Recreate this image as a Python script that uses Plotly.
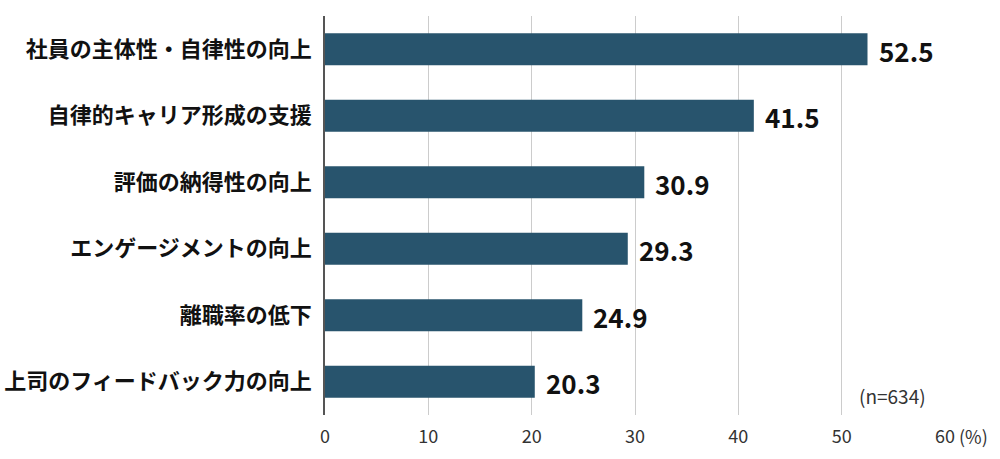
import plotly.graph_objects as go

categories = [
    "社員の主体性・自律性の向上",
    "自律的キャリア形成の支援",
    "評価の納得性の向上",
    "エンゲージメントの向上",
    "離職率の低下",
    "上司のフィードバック力の向上",
]
values = [52.5, 41.5, 30.9, 29.3, 24.9, 20.3]
x_ticks = [0, 10, 20, 30, 40, 50, 60]
note_n = "(n=634)"
unit = "(%)"

FONT = "Noto Sans CJK JP"
BAR = "#28546d"

fig = go.Figure()
fig.add_trace(go.Bar(
    x=values, y=categories, orientation="h",
    marker=dict(color=BAR, line=dict(width=0)),
    width=0.48,
    hoverinfo="skip",
))

for c, v in zip(categories, values):
    fig.add_annotation(
        x=v, y=c, text=f"{v:.1f}", showarrow=False,
        xanchor="left", xshift=9, yshift=-1,
        font=dict(family=FONT, size=26, color="#111111", weight="bold"),
    )

fig.add_annotation(
    x=60, y=0, xref="x", yref="paper", text=unit, showarrow=False,
    xanchor="left", yanchor="middle", xshift=12, yshift=-21,
    font=dict(family=FONT, size=18, color="#333333"),
)
fig.add_annotation(
    x=58.4, y=0, xref="x", yref="paper", text=note_n, showarrow=False,
    xanchor="right", yanchor="bottom", yshift=4,
    font=dict(family=FONT, size=19, color="#333333"),
)

fig.update_layout(
    width=1000, height=459,
    margin=dict(l=325, r=55, t=16, b=44, autoexpand=False),
    paper_bgcolor="white", plot_bgcolor="white",
    showlegend=False,
    bargap=0.52,
    xaxis=dict(
        range=[0, 60], tickvals=x_ticks, ticktext=[str(t) for t in x_ticks],
        showgrid=True, gridcolor="#cccccc", gridwidth=1,
        zeroline=False, showline=False, ticks="",
        ticklabelstandoff=9,
        tickfont=dict(family=FONT, size=18, color="#333333"),
        automargin=False, fixedrange=True,
    ),
    yaxis=dict(
        categoryorder="array", categoryarray=categories[::-1],
        range=[-0.5, 5.5],
        showgrid=False, zeroline=False,
        showline=True, linecolor="#555555", linewidth=1.5,
        ticks="", ticklabelstandoff=7,
        tickfont=dict(family=FONT, size=22, color="#111111", weight="bold"),
        automargin=False, fixedrange=True,
    ),
)

fig.write_html(
    "out.html",
    config={"displayModeBar": False},
    post_script="document.body.style.margin='0';document.body.style.overflow='hidden';",
)
